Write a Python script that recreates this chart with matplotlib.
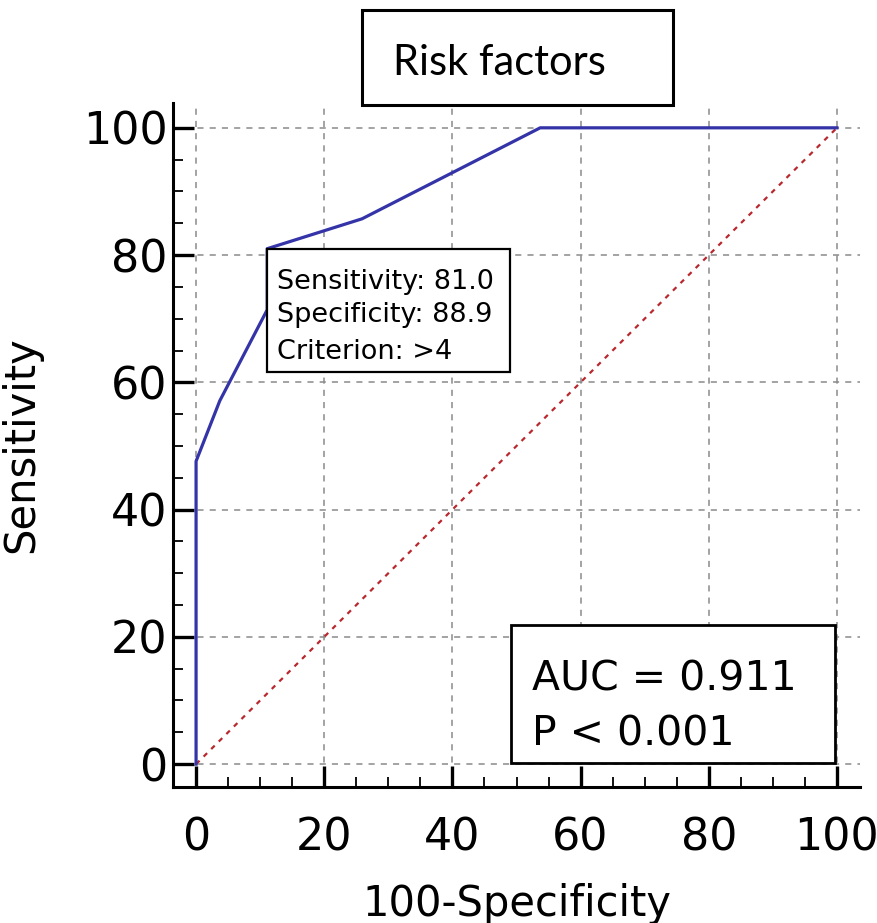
import numpy as np
import matplotlib
matplotlib.use('Agg')
import matplotlib.pyplot as plt
from matplotlib.patches import Rectangle

# ROC points (100-specificity, sensitivity)
fpr = [0, 0, 3.7, 11.1, 11.1, 25.9, 53.7, 100]
tpr = [0, 47.6, 57.1, 71.4, 81.0, 85.7, 100, 100]
ref_line = [0, 100]

cut_fpr = 11.1
cut_tpr = 81.0
cut_lines = ['Sensitivity: 81.0', 'Specificity: 88.9', 'Criterion: >4']
stat_lines = ['AUC = 0.911', 'P < 0.001']
ticks = [0, 20, 40, 60, 80, 100]

fig = plt.figure(figsize=(8.78, 9.23), dpi=100)
ax = fig.add_axes([173/878, 1 - 787/923, 687/878, 684/923])

ax.set_xlim(-3.6, 103.6)
ax.set_ylim(-3.6, 103.9)

ax.plot(ref_line, ref_line, color='#b8282e', lw=1.6, linestyle=(0, (2.2, 2.6)), zorder=2)
ax.plot(fpr, tpr, color='#3434a8', lw=2.3, zorder=3, solid_joinstyle='round')

ax.set_xticks(ticks)
ax.set_yticks(ticks)
ax.set_xticks(np.arange(0, 101, 5), minor=True)
ax.set_yticks(np.arange(0, 101, 5), minor=True)
ax.grid(True, which='major', color='#8a8a8a', linestyle=(0, (4, 4)), lw=1.1, zorder=0)
ax.set_axisbelow(True)

for s in ['top', 'right']:
    ax.spines[s].set_visible(False)
for s in ['left', 'bottom']:
    ax.spines[s].set_linewidth(2.2)

ax.tick_params(axis='both', which='major', direction='in', length=15, width=2.4, labelsize=32)
ax.tick_params(axis='both', which='minor', direction='in', length=7, width=1.3)
ax.tick_params(axis='x', which='major', pad=21)
ax.tick_params(axis='y', which='major', pad=4)

ax.set_xlabel('100-Specificity', fontsize=30)
ax.set_ylabel('Sensitivity', fontsize=30)
ax.xaxis.set_label_coords(0.5, -0.14)
ax.yaxis.set_label_coords(-0.19, 0.5)

# criterion box anchored at cutoff point
ax.add_patch(Rectangle((cut_fpr, cut_tpr), 37.9, -19.3, facecolor='white',
                       edgecolor='black', lw=1.6, zorder=5))
offs = [-28.8, -52.6, -79.2]
for txt, dy in zip(cut_lines, offs):
    ax.annotate(txt, xy=(cut_fpr, cut_tpr), xytext=(7.2, dy), textcoords='offset points',
                fontsize=19.5, va='baseline', ha='left', zorder=6)

# AUC box
ax.add_patch(Rectangle((0.492, 0.0351), 0.4716, 0.2017, transform=ax.transAxes,
                       facecolor='white', edgecolor='black', lw=2.0, zorder=5, clip_on=False))
ax.text(0.5226, 0.1418, stat_lines[0], transform=ax.transAxes, fontsize=29.5,
        va='baseline', ha='left', zorder=6)
ax.text(0.5226, 0.0614, stat_lines[1], transform=ax.transAxes, fontsize=29.5,
        va='baseline', ha='left', zorder=6)

# title box
fig.patches.append(Rectangle((362/878, 1 - 105/923), 311/878, 95/923, transform=fig.transFigure,
                             fill=False, edgecolor='black', lw=2.2))
fig.text(393/878, 1 - 75/923, 'Risk factors', fontsize=30, family='Lato', va='baseline', ha='left')

plt.savefig('out.png', dpi=100)
